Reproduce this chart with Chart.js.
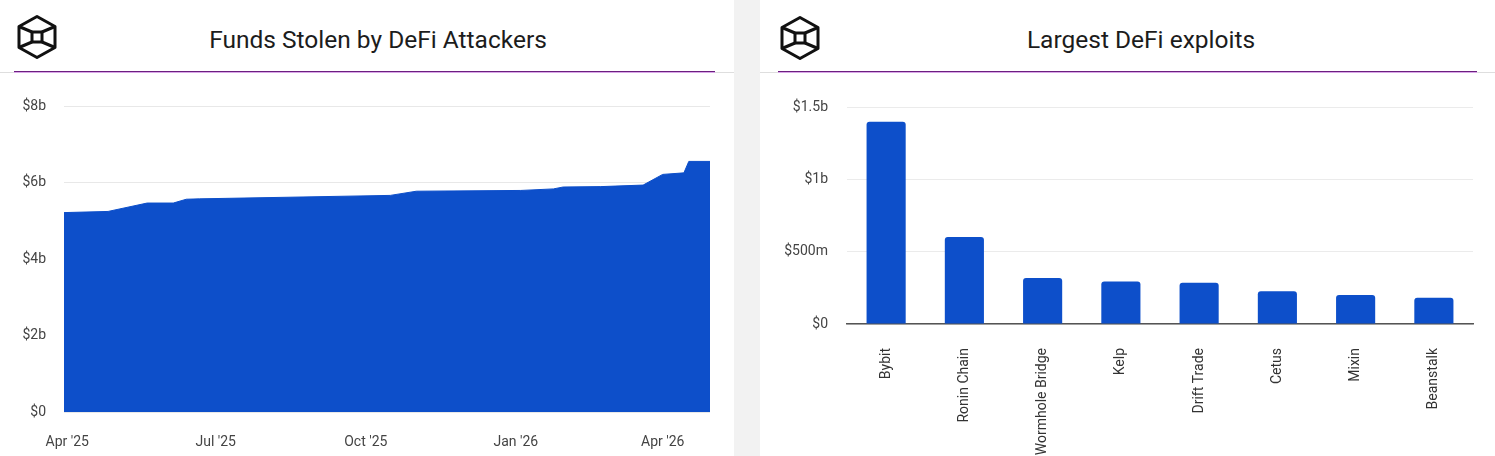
<!DOCTYPE html>
<html>
<head>
<meta charset="utf-8">
<script src="https://cdn.jsdelivr.net/npm/chart.js@4.4.1/dist/chart.umd.min.js"></script>
<style>
    body { margin: 0; width: 1495px; height: 456px; background: #f2f2f2; font-family: Roboto, sans-serif; overflow: hidden; }
    .panel { position: absolute; top: 0; height: 456px; background: #fff; }
    .rule { position: absolute; top: 72px; height: 1px; background: #dedede; }
    .accent { position: absolute; top: 71px; height: 2px; background: linear-gradient(#6c1f80 50%, #d9a6e8 50%); }
    .title { position: absolute; top: 26px; line-height: 28px; font-size: 24.5px; color: #1c1c1c; text-align: center; }
    .logo { position: absolute; }
    canvas { position: absolute; top: 80px; }
</style>
</head>
<body>
<div class="panel" style="left:0;width:734px"></div>
<div class="panel" style="left:760px;width:735px"></div>
<div class="rule" style="left:0;width:734px"></div>
<div class="rule" style="left:760px;width:735px"></div>
<div class="accent" style="left:14px;width:701px"></div>
<div class="accent" style="left:778px;width:699px"></div>

<svg class="logo" style="left:15px;top:13px" width="44" height="48" viewBox="0 0 44 48">
    <g fill="none" stroke="#111" stroke-width="3" stroke-linejoin="round">
        <polygon points="22,3.5 40,13.5 40,34.5 22,44.5 4,34.5 4,13.5"/>
        <rect x="17" y="19" width="10" height="10"/>
        <path d="M4 13.5 L17 19 M40 13.5 L27 19 M4 34.5 L17 29 M40 34.5 L27 29"/>
    </g>
</svg>
<svg class="logo" style="left:778px;top:14px" width="44" height="48" viewBox="0 0 44 48">
    <g fill="none" stroke="#111" stroke-width="3" stroke-linejoin="round">
        <polygon points="22,3.5 40,13.5 40,34.5 22,44.5 4,34.5 4,13.5"/>
        <rect x="17" y="19" width="10" height="10"/>
        <path d="M4 13.5 L17 19 M40 13.5 L27 19 M4 34.5 L17 29 M40 34.5 L27 29"/>
    </g>
</svg>

<div class="title" style="left:0;width:756px">Funds Stolen by DeFi Attackers</div>
<div class="title" style="left:760px;width:762px">Largest DeFi exploits</div>

<canvas id="stolenChart" width="734" height="376" style="left:0"></canvas>
<canvas id="exploitsChart" width="735" height="376" style="left:760px"></canvas>

<script>
// cumulative funds stolen, billions of dollars
var stolenDates = ['2025-03-30', '2025-04-26', '2025-05-20', '2025-06-05', '2025-06-13', '2025-06-21',
    '2025-10-16', '2025-11-01', '2026-01-04', '2026-01-24', '2026-01-30', '2026-02-22',
    '2026-03-20', '2026-04-01', '2026-04-14', '2026-04-17', '2026-04-30'];
var stolenBillions = [5.22, 5.25, 5.47, 5.47, 5.57, 5.58,
    5.67, 5.78, 5.80, 5.84, 5.89, 5.90,
    5.94, 6.22, 6.26, 6.56, 6.56];
var quarterTickDates = ['2025-04-01', '2025-07-01', '2025-10-01', '2026-01-01', '2026-04-01'];
var quarterTickLabels = ["Apr '25", "Jul '25", "Oct '25", "Jan '26", "Apr '26"];
var stolenTicks = [0, 2, 4, 6, 8];

// largest exploits, millions of dollars
var exploitNames = ['Bybit', 'Ronin Chain', 'Wormhole Bridge', 'Kelp', 'Drift Trade', 'Cetus', 'Mixin', 'Beanstalk'];
var exploitMillions = [1400, 602, 318, 295, 286, 227, 200, 181];
var exploitTicks = [0, 500, 1000, 1500];

window.onload = function() {
    var blue = '#0d4fca';
    var tickFont = { family: 'Roboto', size: 14 };

    function dayNumber(iso) {
        var p = iso.split('-');
        return Date.UTC(+p[0], +p[1] - 1, +p[2]) / 86400000;
    }

    var points = stolenDates.map(function(d, i) {
        return { x: dayNumber(d), y: stolenBillions[i] };
    });
    var tickDays = quarterTickDates.map(dayNumber);

    new Chart(document.getElementById('stolenChart'), {
        type: 'line',
        data: {
            datasets: [{
                data: points,
                fill: 'origin',
                backgroundColor: blue,
                borderColor: blue,
                borderWidth: 1,
                pointRadius: 0,
                tension: 0
            }]
        },
        options: {
            responsive: false,
            animation: false,
            devicePixelRatio: 1,
            // chart.js adds ~5px above this for the top tick label
            layout: { padding: { top: 18, right: 24, left: 0, bottom: 0 } },
            plugins: { legend: { display: false }, tooltip: { enabled: false } },
            scales: {
                x: {
                    type: 'linear',
                    min: points[0].x,
                    max: points[points.length - 1].x,
                    afterBuildTicks: function(scale) {
                        scale.ticks = tickDays.map(function(v) { return { value: v }; });
                    },
                    afterFit: function(scale) { scale.height = 44; },
                    grid: { display: false },
                    border: { display: false },
                    ticks: {
                        autoSkip: false,
                        maxRotation: 0,
                        padding: 14,
                        color: '#444',
                        font: tickFont,
                        callback: function(value) {
                            var i = tickDays.indexOf(value);
                            return i >= 0 ? quarterTickLabels[i] : '';
                        }
                    }
                },
                y: {
                    min: 0,
                    max: 8,
                    afterBuildTicks: function(scale) {
                        scale.ticks = stolenTicks.map(function(v) { return { value: v }; });
                    },
                    afterFit: function(scale) { scale.width = 64; },
                    grid: { color: '#e8e8e8', drawTicks: false },
                    border: { display: false },
                    ticks: {
                        padding: 18,
                        color: '#444',
                        font: tickFont,
                        callback: function(value) {
                            return value === 0 ? '$0' : '$' + value + 'b';
                        }
                    }
                }
            }
        }
    });

    new Chart(document.getElementById('exploitsChart'), {
        type: 'bar',
        data: {
            labels: exploitNames,
            datasets: [{
                data: exploitMillions,
                backgroundColor: blue,
                borderRadius: 3,
                borderSkipped: 'start',
                barPercentage: 0.5,
                categoryPercentage: 1
            }]
        },
        options: {
            responsive: false,
            animation: false,
            devicePixelRatio: 1,
            layout: { padding: { top: 18, right: 22, left: 0, bottom: 0 } },
            plugins: { legend: { display: false }, tooltip: { enabled: false } },
            scales: {
                x: {
                    afterFit: function(scale) { scale.height = 132; },
                    grid: { display: false },
                    border: { display: true, color: '#555', width: 1.5 },
                    ticks: {
                        autoSkip: false,
                        minRotation: 90,
                        maxRotation: 90,
                        padding: 16,
                        color: '#333',
                        font: tickFont
                    }
                },
                y: {
                    min: 0,
                    max: 1500,
                    afterBuildTicks: function(scale) {
                        scale.ticks = exploitTicks.map(function(v) { return { value: v }; });
                    },
                    afterFit: function(scale) { scale.width = 87; },
                    grid: { color: '#ebebeb', drawTicks: false },
                    border: { display: false },
                    ticks: {
                        padding: 19,
                        color: '#444',
                        font: tickFont,
                        callback: function(value) {
                            if (value === 0) return '$0';
                            return value >= 1000 ? '$' + value / 1000 + 'b' : '$' + value + 'm';
                        }
                    }
                }
            }
        }
    });
};
</script>
</body>
</html>
